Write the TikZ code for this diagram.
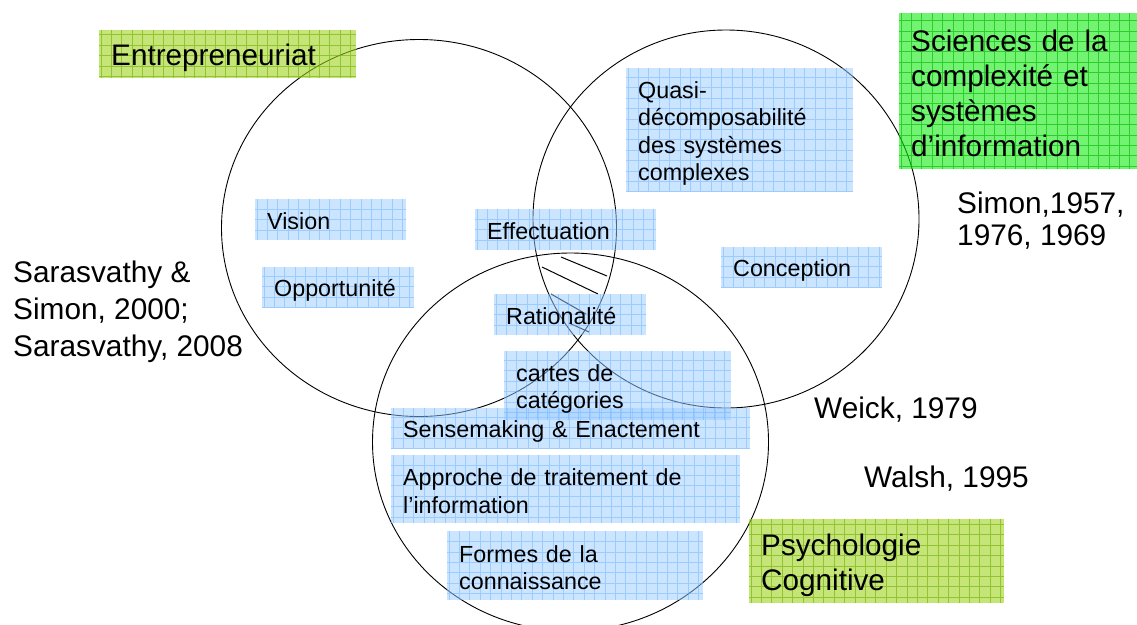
\documentclass[tikz,border=0pt]{standalone}
\usepackage{fontspec}
\setmainfont{Liberation Sans}
\definecolor{conceptblue}{RGB}{153,203,255}
\definecolor{conceptgrid}{RGB}{85,165,255}
\definecolor{fieldgreen}{RGB}{20,235,20}
\definecolor{fieldgreengrid}{RGB}{0,180,0}
\definecolor{fieldlime}{RGB}{160,212,30}
\definecolor{fieldlimegrid}{RGB}{110,175,0}
\tikzset{
  papergrid/.style={path picture={
    \draw[#1, line width=0.6pt] (path picture bounding box.south west) grid[step=10.4pt] (path picture bounding box.north east);}},
  capstrut/.style={execute at begin node={\rule{0pt}{1em}}, execute at end node={\rule[-0.12em]{0pt}{0.12em}}},
  concept/.style={anchor=north west, fill=conceptblue, fill opacity=0.5, text opacity=1,
    papergrid={conceptgrid, draw opacity=0.4}, inner xsep=12pt, inner ysep=0pt, align=left,
    capstrut, font=\fontsize{23.3}{27.5}\selectfont},
  field/.style={anchor=north west, fill=#1, fill opacity=0.6, text opacity=1,
    papergrid={#1grid, draw opacity=0.6}, inner xsep=12pt, inner ysep=0pt, align=left,
    capstrut, font=\fontsize{29.7}{35}\selectfont},
  refnote/.style={inner sep=0pt, align=left, font=\fontsize{29.8}{37}\selectfont}
}
\begin{document}
\begin{tikzpicture}[x=1pt, y=-1pt]
  \useasboundingbox (0,0) rectangle (1137,624);
  \clip (0,0) rectangle (1137,624);
  \foreach \cx/\cy/\rx/\ry in {419/228/197.5/188.5, 726/219/193/189, 570.5/442/198/189} {
    \draw[line width=0.9pt] (\cx,\cy) ellipse [x radius=\rx, y radius=\ry];
  }
  \foreach \xa/\ya/\xb/\yb in {561/257/607/276, 542/267/598/294, 551/294/586/314, 569/323/589/332} {
    \draw[line width=1pt] (\xa,\ya) -- (\xb,\yb);
  }

  \node[concept, text width=127pt, minimum height=41pt] (vision) at (255,199) {Vision};
  \node[concept, text width=128pt, minimum height=41pt] (opportunite) at (262,267) {Opportunité};
  \node[concept, text width=157pt, minimum height=41pt] (effectuation) at (475,209) {Effectuation};
  \node[concept, text width=128pt, minimum height=41pt] (rationalite) at (494,294) {Rationalité};
  \node[concept, text width=203pt, minimum height=124pt] (quasi) at (626,68) {Quasi-\\décomposabilité\\des systèmes\\complexes};
  \node[concept, text width=137pt, minimum height=41pt] (conception) at (721,247) {Conception};
  \node[concept, text width=335pt, minimum height=41pt] (sensemaking) at (391,408) {Sensemaking \& Enactement};
  \node[concept, text width=203pt, minimum height=69pt] (cartes) at (504,351) {cartes de\\catégories};
  \node[concept, text width=325pt, minimum height=68pt] (approche) at (391,455) {Approche de traitement de\\l’information};
  \node[concept, text width=232pt, minimum height=69pt] (formes) at (447,531) {Formes de la\\connaissance};

  \node[field=fieldlime, text width=233pt, minimum height=48pt] (entrepreneuriat) at (99,30) {Entrepreneuriat};
  \node[field=fieldgreen, text width=214pt, minimum height=156pt] (sciences) at (899,13) {Sciences de la\\complexité et\\systèmes\\d’information};
  \node[field=fieldlime, text width=231pt, minimum height=84pt] (psychologie) at (749,519) {Psychologie\\Cognitive};

  \node[refnote, anchor=west] (sarasvathy) at (13,312) {Sarasvathy \&\\Simon, 2000;\\Sarasvathy, 2008};
  \node[refnote, anchor=west, font=\fontsize{29.8}{32}\selectfont] (simon) at (957,221) {Simon,1957,\\1976, 1969};
  \node[refnote, anchor=base west] (weick) at (814,418) {Weick, 1979};
  \node[refnote, anchor=base west] (walsh) at (864,487) {Walsh, 1995};
\end{tikzpicture}
\end{document}
